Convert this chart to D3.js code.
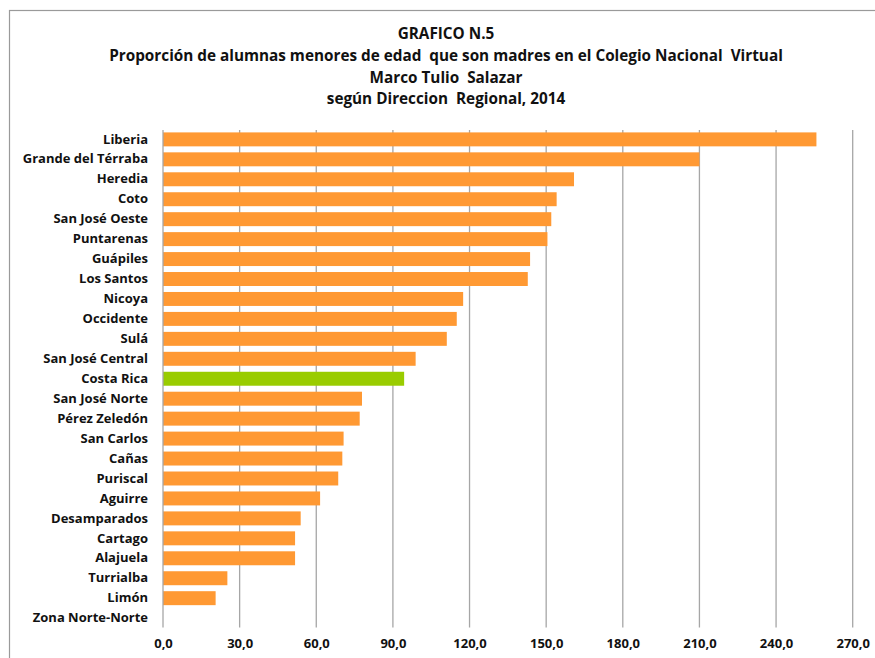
<!DOCTYPE html>
<html>
<head>
<meta charset="utf-8">
<script src="https://cdn.jsdelivr.net/npm/d3@7"></script>
<style>
  body { margin: 0; background: #fff; }
  svg { display: block; font-family: "Open Sans", Lato, sans-serif; }
</style>
</head>
<body>
<div id="chart"></div>
<script>
// DATA
const regiones = [
    "Liberia", "Grande del Térraba", "Heredia", "Coto", "San José Oeste",
    "Puntarenas", "Guápiles", "Los Santos", "Nicoya", "Occidente", "Sulá",
    "San José Central", "Costa Rica", "San José Norte", "Pérez Zeledón",
    "San Carlos", "Cañas", "Puriscal", "Aguirre", "Desamparados", "Cartago",
    "Alajuela", "Turrialba", "Limón", "Zona Norte-Norte"
];
const proporcion = [
    255.8, 210.0, 160.9, 154.1, 152.0,
    150.5, 143.7, 142.8, 117.5, 115.0, 111.1,
    98.9, 94.4, 77.9, 77.0,
    70.7, 70.2, 68.6, 61.5, 53.9, 51.7,
    51.7, 25.2, 20.6, 0
];
const ticks = [0, 30, 60, 90, 120, 150, 180, 210, 240, 270];
const titulo = [
    "GRAFICO N.5",
    "Proporción de alumnas menores de edad  que son madres en el Colegio Nacional  Virtual",
    "Marco Tulio  Salazar",
    "según Direccion  Regional, 2014"
];

// GLOBAL VARIABLES FOR LAYOUT
const width = 875;
const height = 658;
const plotLeft = 163;
const plotRight = 852.7;
const plotTop = 130;
const plotBottom = 627.5;
const barColor = "#FF9933";
const highlightColor = "#99CC00";
const gridColor = "#A6A6A6";

const svg = d3.select("#chart")
    .append("svg")
    .attr("width", width)
    .attr("height", height);

// chart frame (only top and left edges are visible in the picture)
svg.append("rect")
    .attr("x", 9.5)
    .attr("y", 10.5)
    .attr("width", 1000)
    .attr("height", 1000)
    .attr("fill", "none")
    .attr("stroke", "#9A9A9A")
    .attr("stroke-width", 1.2);

// title
const titleY = [34, 56, 77.5, 99];
svg.append("g")
    .selectAll("text")
    .data(titulo)
    .join("text")
    .attr("x", 446)
    .attr("y", (d, i) => titleY[i])
    .attr("dy", "0.35em")
    .attr("text-anchor", "middle")
    .style("font-size", "15.3px")
    .style("font-weight", "bold")
    .style("white-space", "pre")
    .attr("fill", "#111")
    .text(d => d);

// scales
const x = d3.scaleLinear()
    .domain([0, 270])
    .range([plotLeft, plotRight]);

const y = d3.scaleBand()
    .domain(regiones)
    .range([plotTop, plotBottom])
    .paddingInner(0.3)
    .paddingOuter(0.12);

const locale = d3.formatLocale({decimal: ",", thousands: ".", grouping: [3], currency: ["", ""]});

// vertical gridlines
svg.append("g")
    .selectAll("line")
    .data(ticks.slice(1))
    .join("line")
    .attr("x1", d => x(d))
    .attr("x2", d => x(d))
    .attr("y1", plotTop)
    .attr("y2", plotBottom)
    .attr("stroke", gridColor)
    .attr("stroke-width", 1.3);

// bars
svg.append("g")
    .selectAll("rect")
    .data(regiones)
    .join("rect")
    .attr("x", x(0))
    .attr("y", d => y(d))
    .attr("width", (d, i) => x(proporcion[i]) - x(0))
    .attr("height", y.bandwidth())
    .attr("fill", d => d === "Costa Rica" ? highlightColor : barColor);

// x axis tick labels
const xAxis = d3.axisBottom(x)
    .tickValues(ticks)
    .tickFormat(locale.format(".1f"))
    .tickSize(0)
    .tickPadding(0);

const xg = svg.append("g")
    .attr("transform", `translate(0, ${plotBottom + 11})`)
    .call(xAxis);
xg.select(".domain").remove();
xg.selectAll("text")
    .attr("dy", "0.71em")
    .style("font-family", "'Open Sans', sans-serif")
    .style("font-size", "13px")
    .style("font-weight", "bold")
    .attr("fill", "#111");

// y axis with category labels
const yAxis = d3.axisLeft(y)
    .tickSize(0)
    .tickPadding(15);

const yg = svg.append("g")
    .attr("transform", `translate(${plotLeft}, 0)`)
    .call(yAxis);
yg.select(".domain")
    .attr("stroke", gridColor)
    .attr("stroke-width", 1.3)
    .attr("d", `M0,${plotTop}V${plotBottom}`);
yg.selectAll("text")
    .style("font-family", "'Open Sans', sans-serif")
    .style("font-size", "13px")
    .style("font-weight", "bold")
    .attr("fill", "#111");
</script>
</body>
</html>
